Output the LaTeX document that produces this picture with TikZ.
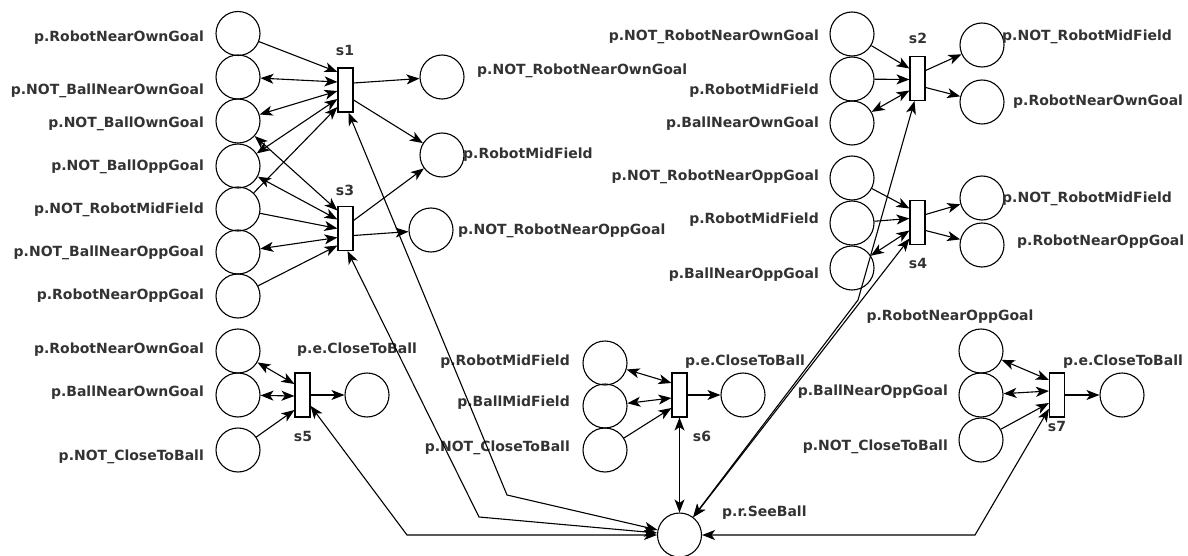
\documentclass[tikz,border=0pt]{standalone}
\usepackage{fontspec}
\setmainfont{DejaVu Sans}
\usetikzlibrary{arrows.meta}

\begin{document}
\begin{tikzpicture}[x=1pt,y=-1pt,
  >={Stealth[length=13pt,width=10pt,inset=3.5pt]},
  place/.style={circle,draw,line width=1.1pt,minimum size=44pt,inner sep=0pt},
  trans/.style={rectangle,draw,line width=1.1pt,fill=white,minimum width=15pt,minimum height=44pt,inner sep=0pt},
  lab/.style={inner sep=0pt,font=\fontsize{14}{16}\selectfont\bfseries,text=black!80},
  arc/.style={line width=1.1pt,black},
]
\useasboundingbox (0,0) rectangle (1188,556);

% ---------- places of s1 / s3 ----------
\node[place] (a1) at (238,33.5) {};
\node[place] (a2) at (238,77) {};
\node[place] (a3) at (238,121) {};
\node[place] (a4) at (238,166) {};
\node[place] (a5) at (238,209) {};
\node[place] (a6) at (238,252) {};
\node[place] (a7) at (238,296) {};
\node[lab,anchor=east] (la1) at (204,38) {p.RobotNearOwnGoal};
\node[lab,anchor=east] (la2) at (204,91) {p.NOT\_BallNearOwnGoal};
\node[lab,anchor=east] (la3) at (204,124) {p.NOT\_BallOwnGoal};
\node[lab,anchor=east] (la4) at (204,167) {p.NOT\_BallOppGoal};
\node[lab,anchor=east] (la5) at (204,210) {p.NOT\_RobotMidField};
\node[lab,anchor=east] (la6) at (204,253) {p.NOT\_BallNearOppGoal};
\node[lab,anchor=east] (la7) at (204,296) {p.RobotNearOppGoal};

\node[trans] (s1) at (345.5,90) {};
\node[trans] (s3) at (345.5,228.5) {};
\node[lab] (ls1) at (345,50) {s1};
\node[lab] (ls3) at (345,190) {s3};

\node[place] (o1) at (442,77) {};
\node[place] (o2) at (442,155) {};
\node[place] (o3) at (431,230) {};
\node[lab,anchor=west] (lo1) at (477,71) {p.NOT\_RobotNearOwnGoal};
\node[lab,anchor=west] (lo2) at (463,155) {p.RobotMidField};
\node[lab,anchor=west] (lo3) at (458,231) {p.NOT\_RobotNearOppGoal};

% ---------- places of s2 / s4 ----------
\node[place] (b1) at (852,34) {};
\node[place] (b2) at (852,79) {};
\node[place] (b3) at (852,123) {};
\node[place] (b4) at (852,178) {};
\node[place] (b5) at (852,223) {};
\node[place] (b6) at (852,268) {};
\node[lab,anchor=east] (lb1) at (819,37) {p.NOT\_RobotNearOwnGoal};
\node[lab,anchor=east] (lb2) at (819,91) {p.RobotMidField};
\node[lab,anchor=east] (lb3) at (819,124) {p.BallNearOwnGoal};
\node[lab,anchor=east] (lb4) at (819,177) {p.NOT\_RobotNearOppGoal};
\node[lab,anchor=east] (lb5) at (819,220) {p.RobotMidField};
\node[lab,anchor=east] (lb6) at (819,275) {p.BallNearOppGoal};

\node[trans] (s2) at (917.5,78.5) {};
\node[trans] (s4) at (917.5,222.5) {};
\node[lab] (ls2) at (918,38) {s2};
\node[lab] (ls4) at (918,263) {s4};

\node[place] (q1) at (982,45) {};
\node[place] (q2) at (982,102) {};
\node[place] (q3) at (982,198) {};
\node[place] (q4) at (982,245) {};
\node[lab,anchor=west] (lq1) at (1002,37) {p.NOT\_RobotMidField};
\node[lab,anchor=west] (lq2) at (1013,102) {p.RobotNearOwnGoal};
\node[lab,anchor=west] (lq3) at (1002,199) {p.NOT\_RobotMidField};
\node[lab,anchor=west] (lq4) at (1017,242) {p.RobotNearOppGoal};

% ---------- s5 ----------
\node[place] (c1) at (238,351) {};
\node[place] (c2) at (238,395) {};
\node[place] (c3) at (238,450) {};
\node[place] (c4) at (367,395) {};
\node[trans] (s5) at (302.5,395) {};
\node[lab] (ls5) at (303,436) {s5};
\node[lab,anchor=east] (lc1) at (204,350) {p.RobotNearOwnGoal};
\node[lab,anchor=east] (lc2) at (204,393) {p.BallNearOwnGoal};
\node[lab,anchor=east] (lc3) at (204,457) {p.NOT\_CloseToBall};
\node[lab,anchor=west] (lc4) at (297,350) {p.e.CloseToBall};

% ---------- s6 ----------
\node[place] (d1) at (605,363) {};
\node[place] (d2) at (605,406) {};
\node[place] (d3) at (605,450) {};
\node[place] (d4) at (743,395) {};
\node[trans] (s6) at (679.5,395) {};
\node[lab] (ls6) at (702,436) {s6};
\node[lab,anchor=east] (ld1) at (570,362) {p.RobotMidField};
\node[lab,anchor=east] (ld2) at (570,403) {p.BallMidField};
\node[lab,anchor=east] (ld3) at (570,448) {p.NOT\_CloseToBall};
\node[lab,anchor=west] (ld4) at (685,362) {p.e.CloseToBall};

% ---------- s7 ----------
\node[place] (e1) at (981,351) {};
\node[place] (e2) at (981,395) {};
\node[place] (e3) at (981,440) {};
\node[place] (e4) at (1122,395) {};
\node[trans] (s7) at (1057,395) {};
\node[lab] (ls7) at (1057,426) {s7};
\node[lab] (le1) at (950,317) {p.RobotNearOppGoal};
\node[lab,anchor=east] (le2) at (948,392) {p.BallNearOppGoal};
\node[lab,anchor=east] (le3) at (948,447) {p.NOT\_CloseToBall};
\node[lab,anchor=west] (le4) at (1063,362) {p.e.CloseToBall};

% ---------- shared place ----------
\node[place] (see) at (679.5,535) {};
\node[lab,anchor=west] (lsee) at (722,513) {p.r.SeeBall};

% bend points of the long arcs
\coordinate (k1) at (507,495);
\coordinate (k3) at (479,517);
\coordinate (k5) at (407,535);
\coordinate (k7) at (975,535);
\coordinate (k2) at (858,300);

% ---------- arcs of s1 ----------
\draw[arc,->]  (a1) -- ([yshift=18pt]s1.west);
\draw[arc,<->] (a2) -- ([yshift=8pt]s1.west);
\draw[arc,<->] (a3) -- ([yshift=-1pt]s1.west);
\draw[arc,<->] (a4) -- ([yshift=-9pt]s1.west);
\draw[arc,->]  (a5) -- ([yshift=-17pt]s1.west);
\draw[arc,->]  ([yshift=7pt]s1.east) -- (o1);
\draw[arc,->]  ([yshift=-10pt]s1.east) -- (o2);
\draw[arc,<->] ([xshift=3pt]s1.south) -- (k1) -- (see);

% ---------- arcs of s3 ----------
\draw[arc,<->] (a3) -- ([yshift=18pt]s3.west);
\draw[arc,<->] (a4) -- ([yshift=9pt]s3.west);
\draw[arc,->]  (a5) -- (s3.west);
\draw[arc,<->] (a6) -- ([yshift=-9pt]s3.west);
\draw[arc,->]  (a7) -- ([yshift=-17pt]s3.west);
\draw[arc,->]  ([yshift=8pt]s3.east) -- (o2);
\draw[arc,->]  ([yshift=-7pt]s3.east) -- (o3);
\draw[arc,<->] ([xshift=2pt]s3.south) -- (k3) -- (see);

% ---------- arcs of s2 ----------
\draw[arc,->]  (b1) -- ([yshift=10pt]s2.west);
\draw[arc,->]  (b2) -- ([yshift=-1pt]s2.west);
\draw[arc,<->] (b3) -- ([yshift=-12pt]s2.west);
\draw[arc,->]  ([yshift=8pt]s2.east) -- (q1);
\draw[arc,->]  ([yshift=-9pt]s2.east) -- (q2);
\draw[arc,<->] (see) -- (k2) -- ([xshift=-3pt]s2.south);

% ---------- arcs of s4 ----------
\draw[arc,->]  (b4) -- ([yshift=14pt]s4.west);
\draw[arc,->]  (b5) -- ([yshift=4pt]s4.west);
\draw[arc,<->] (b6) -- ([yshift=-8pt]s4.west);
\draw[arc,->]  ([yshift=8pt]s4.east) -- (q3);
\draw[arc,->]  ([yshift=-8pt]s4.east) -- (q4);
\draw[arc,<->] (see) -- ([yshift=-16pt]s4.west);

% ---------- arcs of s5 ----------
\draw[arc,<->] (c1) -- ([yshift=11pt]s5.west);
\draw[arc,<->] (c2) -- ([yshift=-1pt]s5.west);
\draw[arc,->]  (c3) -- ([yshift=-15pt]s5.west);
\draw[arc,->]  (s5) -- (c4);
\draw[arc,<->] (s5) -- (k5) -- (see);

% ---------- arcs of s6 ----------
\draw[arc,<->] (d1) -- ([yshift=12pt]s6.west);
\draw[arc,<->] (d2) -- ([yshift=-3pt]s6.west);
\draw[arc,->]  (d3) -- ([yshift=-13pt]s6.west);
\draw[arc,->]  (s6) -- (d4);
\draw[arc,<->] (s6) -- (see);

% ---------- arcs of s7 ----------
\draw[arc,<->] (e1) -- ([yshift=15pt]s7.west);
\draw[arc,<->] (e2) -- ([yshift=4pt]s7.west);
\draw[arc,->]  (e3) -- ([yshift=-8pt]s7.west);
\draw[arc,->]  (s7) -- (e4);
\draw[arc,<->] (s7) -- (k7) -- (see);
\end{tikzpicture}
\end{document}
